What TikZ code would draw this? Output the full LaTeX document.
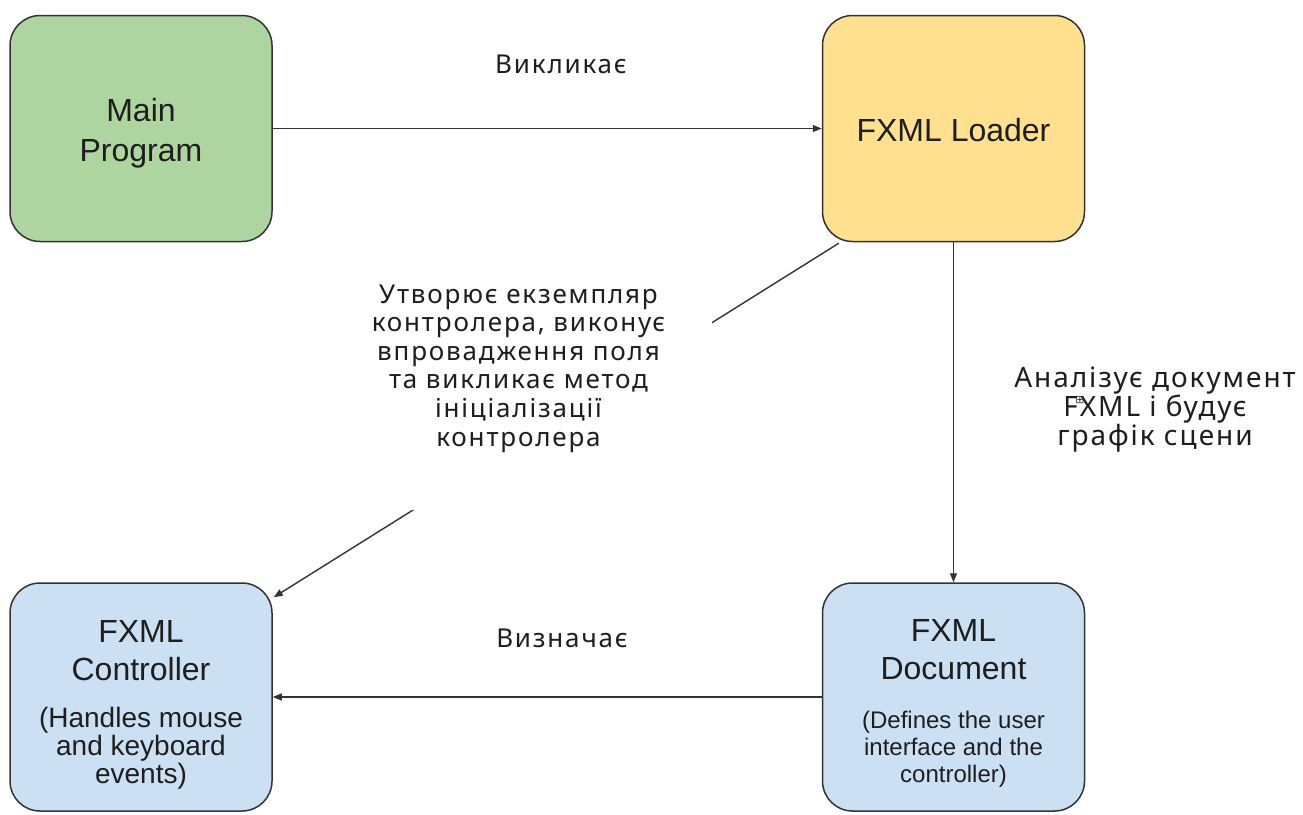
\documentclass[tikz,border=0pt]{standalone}
\usepackage{fontspec}
\setmainfont{Liberation Sans}
\newfontfamily\lblfont{Noto Sans}[LetterSpace=7]
\newfontfamily\symfont{DejaVu Sans}
\usetikzlibrary{arrows.meta,calc}
\definecolor{greenfill}{HTML}{AED59F}
\definecolor{yellowfill}{HTML}{FFE08F}
\definecolor{bluefill}{HTML}{CBE0F3}
\definecolor{edge}{HTML}{333333}
\definecolor{txt}{HTML}{1E1E1E}
\newcommand\subctrl[1]{\parbox[t]{260pt}{\centering\fontsize{28}{28}\selectfont #1}}
\newcommand\subdoc[1]{\parbox[t]{260pt}{\centering\fontsize{24}{27}\selectfont #1}}
\tikzset{
  box/.style={draw=edge, line width=1.5pt, rounded corners=30pt,
    minimum width=262pt, minimum height=226pt, align=center, text=txt,
    inner sep=0pt, font=\fontsize{32}{40}\selectfont},
  lowbox/.style={box, fill=bluefill, minimum height=228pt,
    font=\fontsize{32}{38}\selectfont},
  conn/.style={draw=edge, line width=1.4pt,
    -{Triangle[length=9pt,width=7pt]}},
  lbl/.style={text=txt, align=center, inner sep=0pt,
    font=\lblfont\fontsize{26}{28.6}\selectfont},
}
\begin{document}
\begin{tikzpicture}[x=1pt,y=-1pt]
\useasboundingbox[fill=white] (0,0) rectangle (1303,814);

\node[box, fill=greenfill] (main) at (141,128.5) {\rule{0pt}{33pt}Main\\Program};
\node[box, fill=yellowfill] (loader) at (953.5,128.5) {\rule{0pt}{27pt}FXML Loader};
\node[lowbox] (ctrl) at (141,697)
  {\rule{0pt}{37pt}FXML\\Controller\\[9pt]\subctrl{(Handles mouse\\and keyboard\\events)}};
\node[lowbox] (doc) at (953.5,697)
  {\rule{0pt}{34pt}FXML\\Document\\[11pt]\subdoc{(Defines the user\\interface and the\\controller)}};

\draw[conn] (main) -- (loader);
\draw[conn] (loader) -- (doc);
\draw[conn] (doc.west) -- (doc.west -| ctrl.east);
\coordinate (dstart) at ($(loader.south west)+(17,1)$);
\coordinate (dend) at ($(ctrl.north east)+(1,15)$);
\draw[conn] (dstart) -- (dend);

\node[lbl, anchor=base] (calls) at (561,73) {Викликає};
\node[lbl, anchor=base] (defines) at (562,647) {Визначає};
\node[lbl, anchor=base, font=\lblfont\fontsize{28}{28.6}\selectfont] (parses) at (1155,445)
  {Аналізує документ\\FXML і будує\\графік сцени};
\node[lbl, fill=white, minimum width=387pt, minimum height=283pt] (creates) at (518.5,368.5)
  {Утворює екземпляр\\контролера, виконує\\впровадження поля\\та викликає метод\\ініціалізації\\контролера};
\node[inner sep=0pt, text=edge, font=\symfont\fontsize{11}{11}\selectfont] (mark) at (1080,400) {⊞};
\end{tikzpicture}
\end{document}
